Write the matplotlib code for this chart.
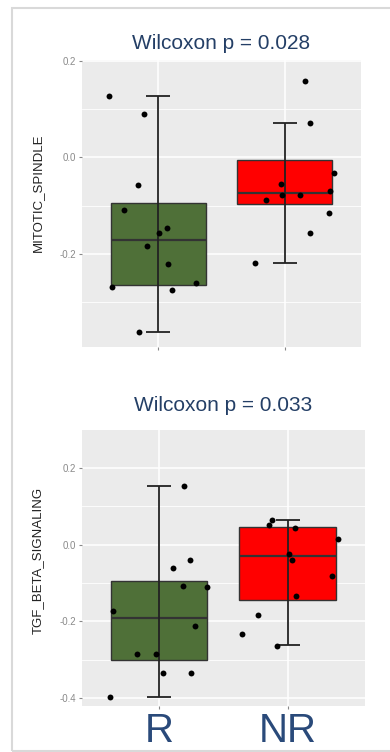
import numpy as np
import matplotlib.pyplot as plt
from matplotlib.patches import Rectangle

plt.rcParams['font.family'] = ['Liberation Sans', 'DejaVu Sans']

groups = ['R', 'NR']
box_colors = ['#4f7038', '#ff0000']

# MITOTIC_SPINDLE panel
ms_title = 'Wilcoxon p = 0.028'
ms_ylabel = 'MITOTIC_SPINDLE'
ms_q1 = [-0.264, -0.0975]
ms_med = [-0.171, -0.0736]
ms_q3 = [-0.0955, -0.006]
ms_lo = [-0.361, -0.218]
ms_hi = [0.126, 0.0707]
ms_R_y = [0.126, 0.090, -0.058, -0.1086, -0.146, -0.157, -0.184, -0.221, -0.269, -0.274, -0.261, -0.361]
ms_R_dx = [-0.388, -0.113, -0.157, -0.267, 0.071, 0.01, -0.086, 0.079, -0.361, 0.11, 0.296, -0.152]
ms_NR_y = [0.157, 0.0707, -0.033, -0.055, -0.079, -0.078, -0.089, -0.070, -0.116, -0.157, -0.218]
ms_NR_dx = [0.16, 0.196, 0.387, -0.031, -0.026, 0.118, -0.152, 0.353, 0.346, 0.196, -0.236]

# TGF_BETA_SIGNALING panel
tgf_title = 'Wilcoxon p = 0.033'
tgf_ylabel = 'TGF_BETA_SIGNALING'
tgf_q1 = [-0.300, -0.145]
tgf_med = [-0.1915, -0.031]
tgf_q3 = [-0.095, 0.046]
tgf_lo = [-0.3966, -0.262]
tgf_hi = [0.153, 0.063]
tgf_R_y = [-0.173, -0.286, -0.285, -0.334, -0.3975, 0.153, -0.061, -0.041, -0.109, -0.111, -0.2106, -0.335]
tgf_R_dx = [-0.357, -0.171, -0.021, 0.031, -0.383, 0.194, 0.109, 0.238, 0.186, 0.372, 0.281, 0.25]
tgf_NR_y = [0.065, 0.0496, 0.0435, 0.0157, -0.0235, -0.041, -0.083, -0.134, -0.1826, -0.232, -0.263]
tgf_NR_dx = [-0.122, -0.147, 0.057, 0.388, 0.008, 0.034, 0.343, 0.067, -0.233, -0.357, -0.081]


def draw_panel(ax, title, ylabel, q1, med, q3, lo, hi, pts, ylim, majors, minors, label_xy, title_pad):
    ax.set_facecolor('#ebebeb')
    for s in ax.spines.values():
        s.set_visible(False)
    pos = np.arange(1, len(groups) + 1)
    stats = [dict(q1=q1[i], med=med[i], q3=q3[i], whislo=lo[i], whishi=hi[i]) for i in range(len(groups))]
    bp = ax.bxp(stats, positions=pos, widths=0.75, patch_artist=True, showcaps=False,
                showfliers=False, manage_ticks=False,
                boxprops=dict(edgecolor='#333333', linewidth=1.0),
                medianprops=dict(color='#333333', linewidth=1.6),
                whiskerprops=dict(linewidth=0))
    for patch, c in zip(bp['boxes'], box_colors):
        patch.set_facecolor(c)
        patch.set_zorder(2)
    for m in bp['medians']:
        m.set_zorder(2.5)
    med_a = np.array(med)
    ax.errorbar(pos, med_a, yerr=[med_a - np.array(lo), np.array(hi) - med_a], fmt='none',
                ecolor='#222222', elinewidth=1.3, capsize=8.3, capthick=1.3, zorder=3)
    for i, (ys, dxs) in enumerate(pts):
        ax.scatter(pos[i] + np.array(dxs), ys, s=18, color='black', zorder=4, linewidths=0)
    ax.set_xlim(0.4, 2.6)
    ax.set_ylim(*ylim)
    ax.set_yticks(majors)
    ax.set_yticklabels([f'{v:.1f}' for v in majors])
    ax.set_yticks(minors, minor=True)
    ax.set_xticks(pos)
    ax.grid(True, which='major', color='white', linewidth=1.1, zorder=0)
    ax.grid(True, which='minor', axis='y', color='white', linewidth=0.6, zorder=0)
    ax.set_axisbelow(True)
    ax.tick_params(axis='both', which='major', length=2.5, width=0.8, color='#888888',
                   labelcolor='#8a8a8a', labelsize=7, pad=1.5)
    ax.tick_params(axis='y', which='minor', length=0)
    ax.set_title(title, fontsize=15, color='#243f66', pad=title_pad)
    ax.set_ylabel(ylabel, fontsize=9.5, color='#222222')
    ax.yaxis.set_label_coords(*label_xy)


fig = plt.figure(figsize=(3.9, 7.52), dpi=100)
fig.patches.append(Rectangle((12 / 390, 1 - 751 / 752), 1.2, (751 - 8) / 752, transform=fig.transFigure,
                             fill=False, edgecolor='#d9d9d9', linewidth=1.5))

ax1 = fig.add_axes([82 / 390, 1 - 347 / 752, 279 / 390, 287 / 752])
draw_panel(ax1, ms_title, ms_ylabel, ms_q1, ms_med, ms_q3, ms_lo, ms_hi,
           [(ms_R_y, ms_R_dx), (ms_NR_y, ms_NR_dx)], (-0.393, 0.2015),
           [-0.2, 0.0, 0.2], [-0.3, -0.1, 0.1], (-0.138, 0.538), 8)
ax1.set_xticklabels([])

ax2 = fig.add_axes([81.7 / 390, 1 - 706 / 752, 283.3 / 390, 276 / 752])
draw_panel(ax2, tgf_title, tgf_ylabel, tgf_q1, tgf_med, tgf_q3, tgf_lo, tgf_hi,
           [(tgf_R_y, tgf_R_dx), (tgf_NR_y, tgf_NR_dx)], (-0.42, 0.298),
           [-0.4, -0.2, 0.0, 0.2], [-0.3, -0.1, 0.1], (-0.135, 0.529), 13.5)
ax2.set_xticklabels(groups)
ax2.tick_params(axis='x', labelsize=29, labelcolor='#2a4a7a', pad=2)

fig.savefig('out.png', dpi=100, facecolor='white')
